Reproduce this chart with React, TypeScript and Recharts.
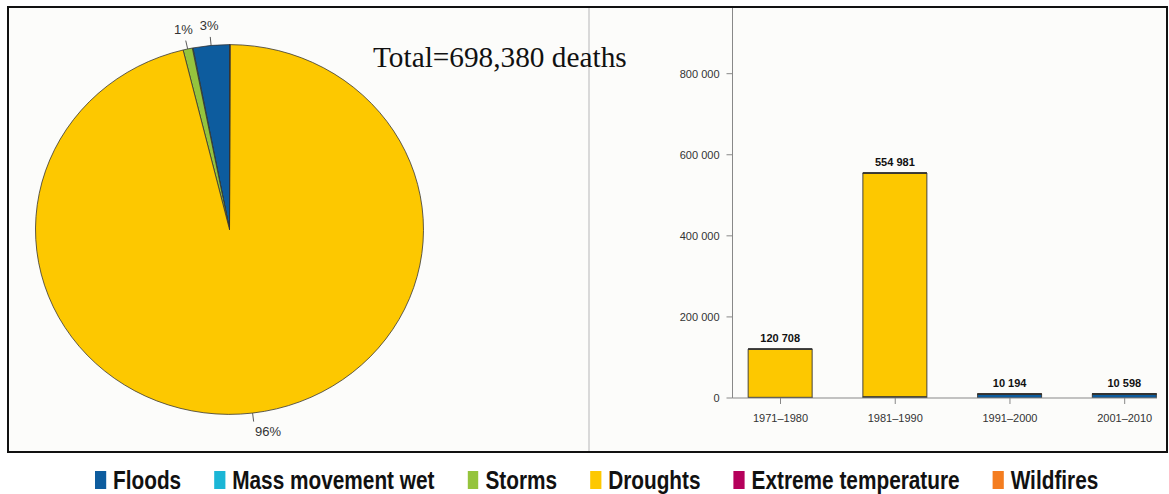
import React from 'react';
import { PieChart, Pie, Cell, BarChart, Bar, XAxis, YAxis, LabelList } from 'recharts';

// Hazard categories and their colours (shared by pie, bars and legend)
const hazardTypes = ['Floods', 'Mass movement wet', 'Storms', 'Droughts', 'Extreme temperature', 'Wildfires'];
const hazardKeys = ['floods', 'massMovement', 'storms', 'droughts', 'extremeTemp', 'wildfires'];
const hazardColors = ['#0d5c9e', '#1bb6d6', '#95c43d', '#fdc800', '#b5005b', '#f47d20'];

// Total deaths per hazard type, 1971–2010
const deathsByHazard = [21100, 350, 5400, 671200, 250, 80];
const totalDeaths = 698380;

// Deaths per decade, per hazard type
const decades = ['1971–1980', '1981–1990', '1991–2000', '2001–2010'];
const floodsByDecade = [1200, 2100, 8700, 9100];
const massMovementByDecade = [50, 80, 120, 150];
const stormsByDecade = [400, 1200, 1300, 1200];
const droughtsByDecade = [119000, 551500, 0, 0];
const extremeTempByDecade = [50, 80, 50, 120];
const wildfiresByDecade = [8, 21, 24, 28];
const yTicks = [0, 200000, 400000, 600000, 800000];

const SANS = "'Liberation Sans', Arial, Helvetica, sans-serif";

// Legend text is condensed horizontally by this factor
const LEGEND_SQUEEZE = 0.8;

const withSpaces = (v: number) => String(v).replace(/\B(?=(\d{3})+(?!\d))/g, ' ');

const pieData = hazardTypes.map((name, i) => ({ name, value: deathsByHazard[i] }));

const barData = decades.map((decade, i) => {
  const row: Record<string, number | string> = {
    idx: i,
    decade,
    floods: floodsByDecade[i],
    massMovement: massMovementByDecade[i],
    storms: stormsByDecade[i],
    droughts: droughtsByDecade[i],
    extremeTemp: extremeTempByDecade[i],
    wildfires: wildfiresByDecade[i],
  };
  row.total =
    floodsByDecade[i] + massMovementByDecade[i] + stormsByDecade[i] +
    droughtsByDecade[i] + extremeTempByDecade[i] + wildfiresByDecade[i];
  return row;
});

const RAD = Math.PI / 180;

// Percentage label with a short leader tick, skipped for negligible slices
const renderPieLabel = (props: any) => {
  const { cx, cy, midAngle, outerRadius, percent } = props;
  if (percent < 0.005) return null;
  const cos = Math.cos(-midAngle * RAD);
  const sin = Math.sin(-midAngle * RAD);
  const x1 = cx + outerRadius * cos;
  const y1 = cy + outerRadius * sin;
  const x2 = cx + (outerRadius + 9) * cos;
  const y2 = cy + (outerRadius + 9) * sin;
  const tr = outerRadius + 20;
  const tx = cx + tr * cos;
  const ty = cy + tr * sin;
  const anchor = cos > 0.05 ? 'start' : cos < -0.3 ? 'end' : 'middle';
  return (
    <g>
      <line x1={x1} y1={y1} x2={x2} y2={y2} stroke="#444" strokeWidth={0.9} />
      <text x={tx} y={ty} textAnchor={anchor} dominantBaseline="central" fontSize={13} fill="#333" fontFamily={SANS}>
        {`${Math.round(percent * 100)}%`}
      </text>
    </g>
  );
};

export default function App() {
  return (
    <div style={{ position: 'absolute', left: 0, top: 0, width: 1169, height: 494, background: '#ffffff', overflow: 'hidden' }}>
      {/* framed panel */}
      <div
        style={{
          position: 'absolute', left: 7, top: 6, width: 1161, height: 447,
          boxSizing: 'border-box', border: '2px solid #111', background: '#fcfcfa',
        }}
      />

      {/* title and panel divider */}
      <svg width={1169} height={494} style={{ position: 'absolute', left: 0, top: 0 }}>
        <line x1={589} y1={8} x2={589} y2={451} stroke="#d9d9d9" strokeWidth={2} />
        <text x={373} y={67} fontSize={29.3} fontFamily="'Liberation Serif', 'Times New Roman', serif" fill="#111">
          {`Total=${totalDeaths.toLocaleString('en-US')} deaths`}
        </text>
      </svg>

      {/* share of deaths by hazard */}
      <div style={{ position: 'absolute', left: 0, top: 0, transform: 'scaleY(0.953)', transformOrigin: '229.5px 229.5px' }}>
        <PieChart width={590} height={460} margin={{ top: 0, right: 0, bottom: 0, left: 0 }}>
          <Pie
            data={pieData}
            dataKey="value"
            nameKey="name"
            cx={229.5}
            cy={229.5}
            outerRadius={194}
            startAngle={90}
            endAngle={450}
            stroke="#333"
            strokeWidth={0.8}
            label={renderPieLabel}
            labelLine={false}
            isAnimationActive={false}
          >
            {pieData.map((d, i) => (
              <Cell key={d.name} fill={hazardColors[i]} />
            ))}
          </Pie>
        </PieChart>
      </div>

      {/* deaths per decade */}
      <div style={{ position: 'absolute', left: 600, top: 0 }}>
        <BarChart width={568} height={460} data={barData} margin={{ top: 8, right: 11, left: 0, bottom: 32 }}>
          <XAxis
            type="number"
            dataKey="idx"
            domain={[-0.4185, 3.2816]}
            ticks={[0, 1, 2, 3]}
            allowDataOverflow
            tickFormatter={(v: number) => decades[v] ?? ''}
            height={30}
            tickSize={6}
            tickMargin={10}
            axisLine={{ stroke: '#888' }}
            tickLine={{ stroke: '#888' }}
            tick={{ fontSize: 11, fill: '#333', fontFamily: SANS }}
          />
          <YAxis
            type="number"
            domain={[0, 962000]}
            ticks={yTicks}
            allowDataOverflow
            tickFormatter={withSpaces}
            width={132.5}
            tickSize={6}
            tickMargin={7}
            axisLine={{ stroke: '#888' }}
            tickLine={{ stroke: '#888' }}
            tick={{ fontSize: 11, fill: '#333', fontFamily: SANS }}
          />
          {hazardKeys.map((key, i) => (
            <Bar
              key={key}
              dataKey={key}
              stackId="deaths"
              barSize={64}
              fill={hazardColors[i]}
              stroke="#333"
              strokeWidth={0.9}
              isAnimationActive={false}
            >
              {i === hazardKeys.length - 1 && (
                <LabelList
                  dataKey="total"
                  position="top"
                  offset={7}
                  formatter={(v: any) => withSpaces(Number(v))}
                  style={{ fontSize: 11, fontWeight: 'bold', fill: '#111', fontFamily: SANS }}
                />
              )}
            </Bar>
          ))}
        </BarChart>
      </div>

      {/* legend (condensed bold type) */}
      <div
        style={{
          position: 'absolute', left: 95, top: 467, height: 26, display: 'flex', alignItems: 'center',
          fontFamily: SANS, fontWeight: 'bold', fontSize: 26, color: '#111', whiteSpace: 'nowrap',
          transform: `scaleX(${LEGEND_SQUEEZE})`, transformOrigin: '0 50%',
        }}
      >
        {hazardTypes.map((name, i) => (
          <div key={name} style={{ display: 'flex', alignItems: 'center', marginRight: 33 / LEGEND_SQUEEZE }}>
            <span
              style={{
                display: 'inline-block', width: 11 / LEGEND_SQUEEZE, height: 18,
                background: hazardColors[i], marginRight: 7 / LEGEND_SQUEEZE,
              }}
            />
            <span>{name}</span>
          </div>
        ))}
      </div>
    </div>
  );
}
